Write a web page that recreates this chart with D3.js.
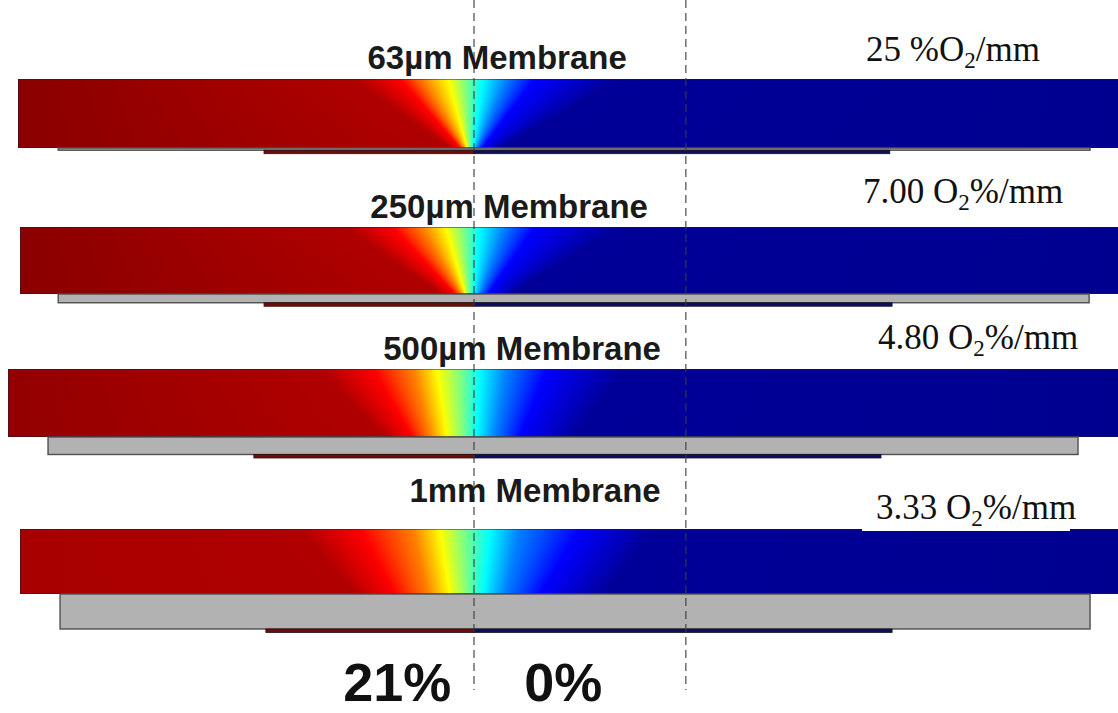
<!DOCTYPE html>
<html>
<head>
<meta charset="utf-8">
<script src="https://cdn.jsdelivr.net/npm/d3@7"></script>
<style>
  html, body { margin: 0; padding: 0; background: #fff; overflow: hidden; }
</style>
</head>
<body>
<script>
// ---- Data -----------------------------------------------------------------
// Membrane cases, thickness in µm, and the O2 gradient reported for each.
const membraneNames = ["63µm Membrane", "250µm Membrane", "500µm Membrane", "1mm Membrane"];
const thicknessUm = [63, 250, 500, 1000];
const gradientLabels = [
  ["25 %O", "2", "/mm"],
  ["7.00 O", "2", "%/mm"],
  ["4.80 O", "2", "%/mm"],
  ["3.33 O", "2", "%/mm"]
];

// O2 iso-levels (%) and where each sits laterally (mm from the channel
// interface) along the top and the bottom of the gel layer.
const isoLevels = [20, 18.4, 15.75, 13.1, 10.5, 7.9, 5.25, 2.6, 0.5];
const isoTopMm = [
  [-2.57, -1.60, -1.10, -0.56, -0.19, 0.19, 0.71, 1.32, 3.16],
  [-2.79, -1.77, -1.12, -0.61, -0.24, 0.13, 0.67, 1.32, 3.16],
  [-3.33, -2.18, -1.32, -0.80, -0.30, 0.13, 0.71, 1.58, 3.26],
  [-3.76, -2.46, -1.32, -0.74, -0.24, 0.35, 0.99, 2.29, 3.91]
];
const isoBottomMm = [
  [-0.52, -0.30, -0.22, -0.15, -0.09, -0.02, 0.06, 0.17, 0.56],
  [-0.69, -0.41, -0.28, -0.19, -0.11, 0.00, 0.13, 0.30, 0.78],
  [-1.92, -1.34, -0.95, -0.58, -0.24, 0.06, 0.45, 0.99, 2.18],
  [-2.57, -1.71, -0.99, -0.52, -0.15, 0.19, 0.67, 1.43, 2.83]
];
// O2 (%) at the far left and far right ends of each gel.
const edgeLeftO2 = [20.8, 20.8, 20.6, 20.2];
const edgeRightO2 = [0.3, 0.3, 0.3, 0.3];

// Device geometry, lateral extents in mm.
const gelLeftMm = [-9.86, -9.82, -10.08, -9.82];
const gelRightMm = [14, 14, 14, 14];
const membraneLeftMm = [-8.99, -8.99, -9.21, -8.95];
const membraneRightMm = [13.32, 13.30, 13.06, 13.32];
const channelLeftMm = [-4.54, -4.54, -4.76, -4.50];
const channelRightMm = [8.99, 9.04, 8.80, 9.04];

// Vertical guides (mm) and the channel O2 levels printed below.
const guideMm = [0, 4.58];
const channelO2Labels = ["21%", "0%"];
const channelO2LabelMm = [-1.66, 1.93];

// ---- Layout ----------------------------------------------------------------
const W = 1118, H = 713;
const panelTop = [79, 227, 369, 529];
const gelHeight = [69, 67, 68, 65];
const titleBaseline = [69, 218, 360, 502];
const titleCenterMm = [0.50, 0.76, 1.04, 1.32];
const rateX = [866, 863, 878, 876];
const rateBaseline = [61, 203, 349, 519];

const svg = d3.select("body").append("svg")
  .attr("width", W).attr("height", H)
  .style("display", "block");

const x = d3.scaleLinear().domain([-10, 14]).range([11.5, 1121.5]);
const thick = d3.scaleLinear().domain([0, 1000]).range([0, 35]);
// jet colour map over 0–21 % O2
const jet = d3.scaleLinear()
  .domain([0, 2.625, 7.875, 13.125, 18.375, 21])
  .range(["#000080", "#0000ff", "#00ffff", "#ffff00", "#ff0000", "#800000"])
  .clamp(true);

const defs = svg.append("defs");

membraneNames.forEach((name, i) => {
  const g = svg.append("g");
  const top = panelTop[i];
  const gh = gelHeight[i];
  const x0 = x(gelLeftMm[i]), x1 = x(gelRightMm[i]);

  // Gel layer: one-pixel rows, each with its own lateral O2 profile
  const rows = g.append("g").attr("shape-rendering", "crispEdges");
  for (let r = 0; r < gh; r++) {
    const f = (r + 0.5) / gh;
    const stops = [{ mm: gelLeftMm[i], v: edgeLeftO2[i] }];
    isoLevels.forEach((v, k) => {
      const mm = isoTopMm[i][k] + (isoBottomMm[i][k] - isoTopMm[i][k]) * f;
      stops.push({ mm, v });
    });
    stops.push({ mm: gelRightMm[i], v: edgeRightO2[i] });

    const id = `o2-${i}-${r}`;
    const lg = defs.append("linearGradient")
      .attr("id", id)
      .attr("gradientUnits", "userSpaceOnUse")
      .attr("x1", x0).attr("x2", x1).attr("y1", 0).attr("y2", 0);
    lg.selectAll("stop").data(stops).join("stop")
      .attr("offset", d => (x(d.mm) - x0) / (x1 - x0))
      .attr("stop-color", d => jet(d.v));

    rows.append("rect")
      .attr("x", Math.round(x0)).attr("y", top + r)
      .attr("width", Math.ceil(x1 - x0)).attr("height", 1)
      .attr("fill", `url(#${id})`);
  }
  g.append("rect")
    .attr("x", Math.round(x0) + 0.5).attr("y", top + 0.5)
    .attr("width", Math.ceil(x1 - x0)).attr("height", gh - 1)
    .attr("fill", "none")
    .attr("stroke", "rgba(35,20,45,0.5)")
    .attr("stroke-width", 1);

  // Membrane
  const mTop = top + gh;
  const mH = thick(thicknessUm[i]);
  g.append("rect")
    .attr("x", x(membraneLeftMm[i])).attr("y", mTop)
    .attr("width", x(membraneRightMm[i]) - x(membraneLeftMm[i]))
    .attr("height", mH)
    .attr("fill", "#b2b2b2")
    .attr("stroke", "#4f4f4f")
    .attr("stroke-width", 1.4);

  // Channel below the membrane: 21 % side and 0 % side
  const cTop = mTop + mH;
  g.append("rect")
    .attr("x", x(channelLeftMm[i])).attr("y", cTop)
    .attr("width", x(0) - x(channelLeftMm[i])).attr("height", 3.5)
    .attr("fill", "#6e0c0c").attr("stroke", "#2a1010").attr("stroke-width", 0.8);
  g.append("rect")
    .attr("x", x(0)).attr("y", cTop)
    .attr("width", x(channelRightMm[i]) - x(0)).attr("height", 3.5)
    .attr("fill", "#0e0e5c").attr("stroke", "#14142a").attr("stroke-width", 0.8);
});

// White label box over the last gel's top edge
svg.append("rect")
  .attr("x", 862).attr("y", 492).attr("width", 208).attr("height", 39)
  .attr("fill", "#fff");

// Vertical dashed guides
svg.selectAll("line.guide").data(guideMm).join("line")
  .attr("class", "guide")
  .attr("x1", d => x(d)).attr("x2", d => x(d))
  .attr("y1", 0).attr("y2", 690)
  .attr("stroke", "rgba(60,60,60,0.75)")
  .attr("stroke-width", 1.5)
  .attr("stroke-dasharray", "8,5");

// Membrane titles
svg.selectAll("text.title").data(membraneNames).join("text")
  .attr("class", "title")
  .attr("x", (d, i) => x(titleCenterMm[i]))
  .attr("y", (d, i) => titleBaseline[i])
  .attr("text-anchor", "middle")
  .attr("font-family", "'Liberation Sans', Arial, sans-serif")
  .attr("font-weight", "bold")
  .attr("font-size", 33)
  .attr("fill", "#1a1a1a")
  .text(d => d);

// Gradient values with subscripted O2
gradientLabels.forEach((parts, i) => {
  const t = svg.append("text")
    .attr("x", rateX[i]).attr("y", rateBaseline[i])
    .attr("font-family", "'Liberation Serif', 'Times New Roman', serif")
    .attr("font-size", 35)
    .attr("fill", "#111");
  t.append("tspan").text(parts[0]);
  t.append("tspan").attr("dy", 7).attr("font-size", 23).text(parts[1]);
  t.append("tspan").attr("dy", -7).text(parts[2]);
});

// Channel O2 levels
svg.selectAll("text.level").data(channelO2Labels).join("text")
  .attr("class", "level")
  .attr("x", (d, i) => x(channelO2LabelMm[i]))
  .attr("y", 701)
  .attr("text-anchor", "middle")
  .attr("font-family", "'Liberation Sans', Arial, sans-serif")
  .attr("font-weight", "bold")
  .attr("font-size", 54)
  .attr("fill", "#111")
  .text(d => d);
</script>
</body>
</html>
